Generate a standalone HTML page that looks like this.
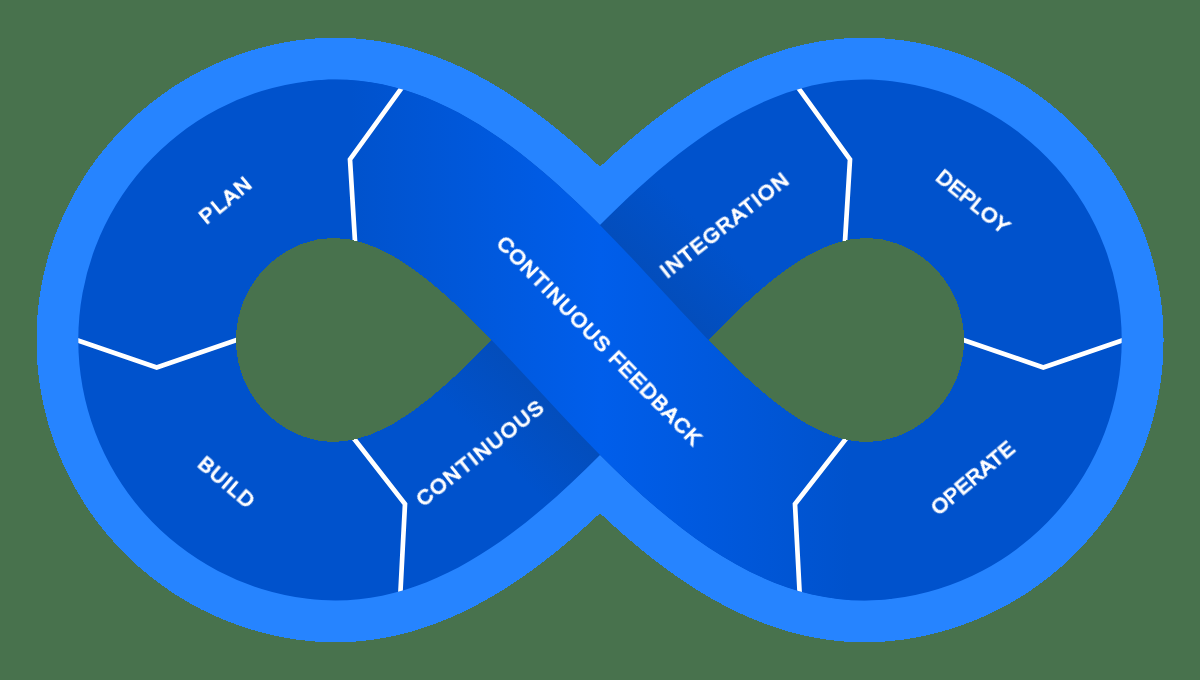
<!DOCTYPE html>
<html><head><meta charset="utf-8"><title>DevOps loop</title>
<style>
html,body{margin:0;padding:0;background:#48724D;}
body{width:1200px;height:680px;overflow:hidden;}
svg{display:block;}
text{font-family:"Liberation Sans",sans-serif;font-size:21.0px;fill:#fff;stroke:#fff;stroke-width:1.2px;text-anchor:middle;dominant-baseline:central;}
</style></head>
<body>
<svg width="1200" height="680" viewBox="0 0 1200 680">
<defs>
<linearGradient id="gf" gradientUnits="userSpaceOnUse" x1="350" y1="0" x2="850" y2="0">
<stop offset="0" stop-color="#0052CC"/><stop offset="0.5" stop-color="#005EEB"/><stop offset="1" stop-color="#0052CC"/>
</linearGradient>
<linearGradient id="gs1" gradientUnits="userSpaceOnUse" x1="648" y1="282" x2="704" y2="226">
<stop offset="0" stop-color="#0747A6" stop-opacity="0.45"/><stop offset="1" stop-color="#0747A6" stop-opacity="0"/>
</linearGradient>
<linearGradient id="gs2" gradientUnits="userSpaceOnUse" x1="552" y1="398" x2="496" y2="454">
<stop offset="0" stop-color="#0747A6" stop-opacity="0.45"/><stop offset="1" stop-color="#0747A6" stop-opacity="0"/>
</linearGradient>
<clipPath id="csil"><path d="M600.00 225.10 C516.48 140.94 421.87 67.47 307.89 81.16 A260.70 260.70 0 0 0 307.89 598.84 C421.87 612.53 516.48 539.06 600.00 454.90 C683.52 539.06 778.13 612.53 892.11 598.84 A260.70 260.70 0 0 0 892.11 81.16 C778.13 67.47 683.52 140.94 600.00 225.10Z"/></clipPath>
<clipPath id="cinteg"><path d="M307.89 598.84 C575.19 630.96 736.00 183.61 896.91 243.46 L892.11 81.16 C624.81 49.04 464.00 496.39 303.09 436.54Z"/></clipPath>
</defs>
<rect width="1200" height="680" fill="#48724D"/>
<path d="M600.0 166.7 L595.9 163.0 L591.8 159.2 L587.7 155.4 L583.6 151.7 L579.4 148.0 L575.2 144.3 L571.0 140.7 L566.7 137.1 L562.4 133.5 L558.1 129.9 L553.7 126.4 L549.4 123.0 L545.0 119.5 L540.5 116.1 L536.1 112.8 L531.6 109.5 L527.0 106.2 L522.5 103.0 L517.9 99.9 L513.2 96.8 L508.6 93.7 L503.9 90.7 L499.1 87.8 L494.4 84.9 L489.6 82.1 L484.7 79.4 L479.8 76.7 L474.9 74.1 L469.9 71.5 L464.9 69.0 L459.9 66.6 L454.8 64.3 L449.7 62.1 L444.5 59.9 L439.3 57.9 L434.1 55.9 L428.8 54.0 L423.4 52.2 L418.1 50.5 L412.7 48.8 L407.2 47.3 L401.7 45.9 L396.2 44.6 L390.6 43.4 L385.0 42.3 L379.4 41.3 L373.7 40.4 L368.0 39.7 L362.2 39.0 L356.4 38.5 L350.6 38.1 L344.7 37.9 L338.8 37.7 L332.9 37.7 L327.0 37.8 L321.0 38.1 L315.0 38.5 L309.0 39.0 L302.9 39.7 L299.3 40.1 L295.6 40.6 L292.0 41.2 L288.4 41.8 L284.7 42.4 L281.1 43.1 L277.5 43.8 L273.9 44.6 L270.4 45.4 L266.8 46.2 L263.2 47.1 L259.7 48.1 L256.1 49.1 L252.6 50.1 L249.1 51.2 L245.6 52.3 L242.1 53.4 L238.6 54.6 L235.2 55.9 L231.7 57.2 L228.3 58.5 L224.9 59.8 L221.5 61.3 L218.1 62.7 L214.8 64.2 L211.4 65.7 L208.1 67.3 L204.8 68.9 L201.5 70.5 L198.3 72.2 L195.0 74.0 L191.8 75.7 L188.6 77.5 L185.4 79.4 L182.3 81.3 L179.1 83.2 L176.0 85.1 L173.0 87.1 L169.9 89.2 L166.9 91.3 L163.9 93.4 L160.9 95.5 L157.9 97.7 L155.0 99.9 L152.1 102.2 L149.2 104.4 L146.4 106.8 L143.5 109.1 L140.8 111.5 L138.0 113.9 L135.3 116.4 L132.6 118.9 L129.9 121.4 L127.3 124.0 L124.6 126.6 L122.1 129.2 L119.5 131.8 L117.0 134.5 L114.5 137.2 L112.1 140.0 L109.7 142.7 L107.3 145.5 L105.0 148.4 L102.6 151.2 L100.4 154.1 L98.1 157.0 L95.9 159.9 L93.8 162.9 L91.6 165.9 L89.5 168.9 L87.5 172.0 L85.4 175.0 L83.5 178.1 L81.5 181.2 L79.6 184.4 L77.7 187.5 L75.9 190.7 L74.1 193.9 L72.4 197.1 L70.6 200.4 L69.0 203.7 L67.3 207.0 L65.7 210.3 L64.2 213.6 L62.7 216.9 L61.2 220.3 L59.8 223.7 L58.4 227.1 L57.0 230.5 L55.7 233.9 L54.4 237.4 L53.2 240.8 L52.0 244.3 L50.9 247.8 L49.8 251.3 L48.7 254.8 L47.7 258.4 L46.8 261.9 L45.8 265.5 L44.9 269.0 L44.1 272.6 L43.3 276.2 L42.6 279.8 L41.8 283.4 L41.2 287.0 L40.6 290.6 L40.0 294.3 L39.4 297.9 L39.0 301.5 L38.5 305.2 L38.1 308.8 L37.8 312.5 L37.4 316.1 L37.2 319.8 L37.0 323.5 L36.8 327.1 L36.6 330.8 L36.6 334.5 L36.5 338.2 L36.5 341.8 L36.6 345.5 L36.6 349.2 L36.8 352.9 L37.0 356.5 L37.2 360.2 L37.4 363.9 L37.8 367.5 L38.1 371.2 L38.5 374.8 L39.0 378.5 L39.4 382.1 L40.0 385.7 L40.6 389.4 L41.2 393.0 L41.8 396.6 L42.6 400.2 L43.3 403.8 L44.1 407.4 L44.9 411.0 L45.8 414.5 L46.8 418.1 L47.7 421.6 L48.7 425.2 L49.8 428.7 L50.9 432.2 L52.0 435.7 L53.2 439.2 L54.4 442.6 L55.7 446.1 L57.0 449.5 L58.4 452.9 L59.8 456.3 L61.2 459.7 L62.7 463.1 L64.2 466.4 L65.7 469.7 L67.3 473.0 L69.0 476.3 L70.6 479.6 L72.4 482.9 L74.1 486.1 L75.9 489.3 L77.7 492.5 L79.6 495.6 L81.5 498.8 L83.5 501.9 L85.4 505.0 L87.5 508.0 L89.5 511.1 L91.6 514.1 L93.8 517.1 L95.9 520.1 L98.1 523.0 L100.4 525.9 L102.6 528.8 L105.0 531.6 L107.3 534.5 L109.7 537.3 L112.1 540.0 L114.5 542.8 L117.0 545.5 L119.5 548.2 L122.1 550.8 L124.6 553.4 L127.3 556.0 L129.9 558.6 L132.6 561.1 L135.3 563.6 L138.0 566.1 L140.8 568.5 L143.5 570.9 L146.4 573.2 L149.2 575.6 L152.1 577.8 L155.0 580.1 L157.9 582.3 L160.9 584.5 L163.9 586.6 L166.9 588.7 L169.9 590.8 L173.0 592.9 L176.0 594.9 L179.1 596.8 L182.3 598.7 L185.4 600.6 L188.6 602.5 L191.8 604.3 L195.0 606.0 L198.3 607.8 L201.5 609.5 L204.8 611.1 L208.1 612.7 L211.4 614.3 L214.8 615.8 L218.1 617.3 L221.5 618.7 L224.9 620.2 L228.3 621.5 L231.7 622.8 L235.2 624.1 L238.6 625.4 L242.1 626.6 L245.6 627.7 L249.1 628.8 L252.6 629.9 L256.1 630.9 L259.7 631.9 L263.2 632.9 L266.8 633.8 L270.4 634.6 L273.9 635.4 L277.5 636.2 L281.1 636.9 L284.7 637.6 L288.4 638.2 L292.0 638.8 L295.6 639.4 L299.3 639.9 L302.9 640.3 L309.0 641.0 L315.0 641.5 L321.0 641.9 L327.0 642.2 L332.9 642.3 L338.8 642.3 L344.7 642.1 L350.6 641.9 L356.4 641.5 L362.2 641.0 L368.0 640.3 L373.7 639.6 L379.4 638.7 L385.0 637.7 L390.6 636.6 L396.2 635.4 L401.7 634.1 L407.2 632.7 L412.7 631.2 L418.1 629.5 L423.4 627.8 L428.8 626.0 L434.1 624.1 L439.3 622.1 L444.5 620.1 L449.7 617.9 L454.8 615.7 L459.9 613.4 L464.9 611.0 L469.9 608.5 L474.9 605.9 L479.8 603.3 L484.7 600.6 L489.6 597.9 L494.4 595.1 L499.1 592.2 L503.9 589.3 L508.6 586.3 L513.2 583.2 L517.9 580.1 L522.5 577.0 L527.0 573.8 L531.6 570.5 L536.1 567.2 L540.5 563.9 L545.0 560.5 L549.4 557.0 L553.7 553.6 L558.1 550.1 L562.4 546.5 L566.7 542.9 L571.0 539.3 L575.2 535.7 L579.4 532.0 L583.6 528.3 L587.7 524.6 L591.8 520.8 L595.9 517.0 L600.0 513.3 L604.1 517.0 L608.2 520.8 L612.3 524.6 L616.4 528.3 L620.6 532.0 L624.8 535.7 L629.0 539.3 L633.3 542.9 L637.6 546.5 L641.9 550.1 L646.3 553.6 L650.6 557.0 L655.0 560.5 L659.5 563.9 L663.9 567.2 L668.4 570.5 L673.0 573.8 L677.5 577.0 L682.1 580.1 L686.8 583.2 L691.4 586.3 L696.1 589.3 L700.9 592.2 L705.6 595.1 L710.4 597.9 L715.3 600.6 L720.2 603.3 L725.1 605.9 L730.1 608.5 L735.1 611.0 L740.1 613.4 L745.2 615.7 L750.3 617.9 L755.5 620.1 L760.7 622.1 L765.9 624.1 L771.2 626.0 L776.6 627.8 L781.9 629.5 L787.3 631.2 L792.8 632.7 L798.3 634.1 L803.8 635.4 L809.4 636.6 L815.0 637.7 L820.6 638.7 L826.3 639.6 L832.0 640.3 L837.8 641.0 L843.6 641.5 L849.4 641.9 L855.3 642.1 L861.2 642.3 L867.1 642.3 L873.0 642.2 L879.0 641.9 L885.0 641.5 L891.0 641.0 L897.1 640.3 L900.7 639.9 L904.4 639.4 L908.0 638.8 L911.6 638.2 L915.3 637.6 L918.9 636.9 L922.5 636.2 L926.1 635.4 L929.6 634.6 L933.2 633.8 L936.8 632.9 L940.3 631.9 L943.9 630.9 L947.4 629.9 L950.9 628.8 L954.4 627.7 L957.9 626.6 L961.4 625.4 L964.8 624.1 L968.3 622.8 L971.7 621.5 L975.1 620.2 L978.5 618.7 L981.9 617.3 L985.2 615.8 L988.6 614.3 L991.9 612.7 L995.2 611.1 L998.5 609.5 L1001.7 607.8 L1005.0 606.0 L1008.2 604.3 L1011.4 602.5 L1014.6 600.6 L1017.7 598.7 L1020.9 596.8 L1024.0 594.9 L1027.0 592.9 L1030.1 590.8 L1033.1 588.7 L1036.1 586.6 L1039.1 584.5 L1042.1 582.3 L1045.0 580.1 L1047.9 577.8 L1050.8 575.6 L1053.6 573.2 L1056.5 570.9 L1059.2 568.5 L1062.0 566.1 L1064.7 563.6 L1067.4 561.1 L1070.1 558.6 L1072.7 556.0 L1075.4 553.4 L1077.9 550.8 L1080.5 548.2 L1083.0 545.5 L1085.5 542.8 L1087.9 540.0 L1090.3 537.3 L1092.7 534.5 L1095.0 531.6 L1097.4 528.8 L1099.6 525.9 L1101.9 523.0 L1104.1 520.1 L1106.2 517.1 L1108.4 514.1 L1110.5 511.1 L1112.5 508.0 L1114.6 505.0 L1116.5 501.9 L1118.5 498.8 L1120.4 495.6 L1122.3 492.5 L1124.1 489.3 L1125.9 486.1 L1127.6 482.9 L1129.4 479.6 L1131.0 476.3 L1132.7 473.0 L1134.3 469.7 L1135.8 466.4 L1137.3 463.1 L1138.8 459.7 L1140.2 456.3 L1141.6 452.9 L1143.0 449.5 L1144.3 446.1 L1145.6 442.6 L1146.8 439.2 L1148.0 435.7 L1149.1 432.2 L1150.2 428.7 L1151.3 425.2 L1152.3 421.6 L1153.2 418.1 L1154.2 414.5 L1155.1 411.0 L1155.9 407.4 L1156.7 403.8 L1157.4 400.2 L1158.2 396.6 L1158.8 393.0 L1159.4 389.4 L1160.0 385.7 L1160.6 382.1 L1161.0 378.5 L1161.5 374.8 L1161.9 371.2 L1162.2 367.5 L1162.6 363.9 L1162.8 360.2 L1163.0 356.5 L1163.2 352.9 L1163.4 349.2 L1163.4 345.5 L1163.5 341.8 L1163.5 338.2 L1163.4 334.5 L1163.4 330.8 L1163.2 327.1 L1163.0 323.5 L1162.8 319.8 L1162.6 316.1 L1162.2 312.5 L1161.9 308.8 L1161.5 305.2 L1161.0 301.5 L1160.6 297.9 L1160.0 294.3 L1159.4 290.6 L1158.8 287.0 L1158.2 283.4 L1157.4 279.8 L1156.7 276.2 L1155.9 272.6 L1155.1 269.0 L1154.2 265.5 L1153.2 261.9 L1152.3 258.4 L1151.3 254.8 L1150.2 251.3 L1149.1 247.8 L1148.0 244.3 L1146.8 240.8 L1145.6 237.4 L1144.3 233.9 L1143.0 230.5 L1141.6 227.1 L1140.2 223.7 L1138.8 220.3 L1137.3 216.9 L1135.8 213.6 L1134.3 210.3 L1132.7 207.0 L1131.0 203.7 L1129.4 200.4 L1127.6 197.1 L1125.9 193.9 L1124.1 190.7 L1122.3 187.5 L1120.4 184.4 L1118.5 181.2 L1116.5 178.1 L1114.6 175.0 L1112.5 172.0 L1110.5 168.9 L1108.4 165.9 L1106.2 162.9 L1104.1 159.9 L1101.9 157.0 L1099.6 154.1 L1097.4 151.2 L1095.0 148.4 L1092.7 145.5 L1090.3 142.7 L1087.9 140.0 L1085.5 137.2 L1083.0 134.5 L1080.5 131.8 L1077.9 129.2 L1075.4 126.6 L1072.7 124.0 L1070.1 121.4 L1067.4 118.9 L1064.7 116.4 L1062.0 113.9 L1059.2 111.5 L1056.5 109.1 L1053.6 106.8 L1050.8 104.4 L1047.9 102.2 L1045.0 99.9 L1042.1 97.7 L1039.1 95.5 L1036.1 93.4 L1033.1 91.3 L1030.1 89.2 L1027.0 87.1 L1024.0 85.1 L1020.9 83.2 L1017.7 81.3 L1014.6 79.4 L1011.4 77.5 L1008.2 75.7 L1005.0 74.0 L1001.7 72.2 L998.5 70.5 L995.2 68.9 L991.9 67.3 L988.6 65.7 L985.2 64.2 L981.9 62.7 L978.5 61.3 L975.1 59.8 L971.7 58.5 L968.3 57.2 L964.8 55.9 L961.4 54.6 L957.9 53.4 L954.4 52.3 L950.9 51.2 L947.4 50.1 L943.9 49.1 L940.3 48.1 L936.8 47.1 L933.2 46.2 L929.6 45.4 L926.1 44.6 L922.5 43.8 L918.9 43.1 L915.3 42.4 L911.6 41.8 L908.0 41.2 L904.4 40.6 L900.7 40.1 L897.1 39.7 L891.0 39.0 L885.0 38.5 L879.0 38.1 L873.0 37.8 L867.1 37.7 L861.2 37.7 L855.3 37.9 L849.4 38.1 L843.6 38.5 L837.8 39.0 L832.0 39.7 L826.3 40.4 L820.6 41.3 L815.0 42.3 L809.4 43.4 L803.8 44.6 L798.3 45.9 L792.8 47.3 L787.3 48.8 L781.9 50.5 L776.6 52.2 L771.2 54.0 L765.9 55.9 L760.7 57.9 L755.5 59.9 L750.3 62.1 L745.2 64.3 L740.1 66.6 L735.1 69.0 L730.1 71.5 L725.1 74.1 L720.2 76.7 L715.3 79.4 L710.4 82.1 L705.6 84.9 L700.9 87.8 L696.1 90.7 L691.4 93.7 L686.8 96.8 L682.1 99.9 L677.5 103.0 L673.0 106.2 L668.4 109.5 L663.9 112.8 L659.5 116.1 L655.0 119.5 L650.6 123.0 L646.3 126.4 L641.9 129.9 L637.6 133.5 L633.3 137.1 L629.0 140.7 L624.8 144.3 L620.6 148.0 L616.4 151.7 L612.3 155.4 L608.2 159.2 L604.1 163.0Z" fill="#2684FF" shape-rendering="crispEdges"/>
<path fill="#0052CC" d="M600.00 225.10 C516.48 140.94 421.87 67.47 307.89 81.16 A260.70 260.70 0 0 0 307.89 598.84 C421.87 612.53 516.48 539.06 600.00 454.90 C683.52 539.06 778.13 612.53 892.11 598.84 A260.70 260.70 0 0 0 892.11 81.16 C778.13 67.47 683.52 140.94 600.00 225.10Z"/>
<g clip-path="url(#csil)">
<g clip-path="url(#cinteg)">
<rect x="600" y="0" width="300" height="340" fill="url(#gs1)"/>
<rect x="300" y="340" width="300" height="340" fill="url(#gs2)"/>
</g>
<path d="M307.89 81.16 C575.19 49.04 736.00 496.39 896.91 436.54 L892.11 598.84 C624.81 630.96 464.00 183.61 303.09 243.46Z" fill="url(#gf)"/>
<g fill="none" stroke="#fff" stroke-width="4.7" stroke-linejoin="miter" stroke-linecap="butt">
<polyline points="402.8,86.3 350.0,159.5 355.2,244.5"/>
<polyline points="797.2,86.3 850.0,159.5 844.8,244.5"/>
<polyline points="74.2,339.2 156.7,367.5 240.3,338.7"/>
<polyline points="1125.8,339.2 1043.3,367.5 959.7,338.7"/>
<polyline points="352.5,436.8 405.0,504.0 400.3,594.5"/>
<polyline points="847.5,436.8 795.0,504.0 799.7,594.5"/>
</g>
</g>
<path d="M303.09 243.46 A103.00 103.00 0 0 0 303.09 436.54 C364.00 459.19 424.89 409.18 491.55 340.00 C424.89 270.82 364.00 220.81 303.09 243.46Z" fill="#48724D" shape-rendering="crispEdges"/>
<path d="M896.91 243.46 A103.00 103.00 0 0 1 896.91 436.54 C836.00 459.19 775.11 409.18 708.45 340.00 C775.11 270.82 836.00 220.81 896.91 243.46Z" fill="#48724D" shape-rendering="crispEdges"/>
<g opacity="0.999">
<text transform="translate(225.2 198.9) rotate(-39.5)" letter-spacing="1.74">PLAN</text>
<text transform="translate(227.5 481.6) rotate(40.5)" letter-spacing="1.10">BUILD</text>
<text transform="translate(479.8 451.9) rotate(-38.5)" letter-spacing="1.63">CONTINUOUS</text>
<text transform="translate(724.1 224.1) rotate(-38.0)" letter-spacing="1.43">INTEGRATION</text>
<text transform="translate(600.3 340.2) rotate(45.7)" letter-spacing="1.24">CONTINUOUS FEEDBACK</text>
<text transform="translate(973.8 200.9) rotate(39.3)" letter-spacing="0.43">DEPLOY</text>
<text transform="translate(972.2 477.0) rotate(-40.0)" letter-spacing="0.43">OPERATE</text>
</g>
</svg>
</body></html>
